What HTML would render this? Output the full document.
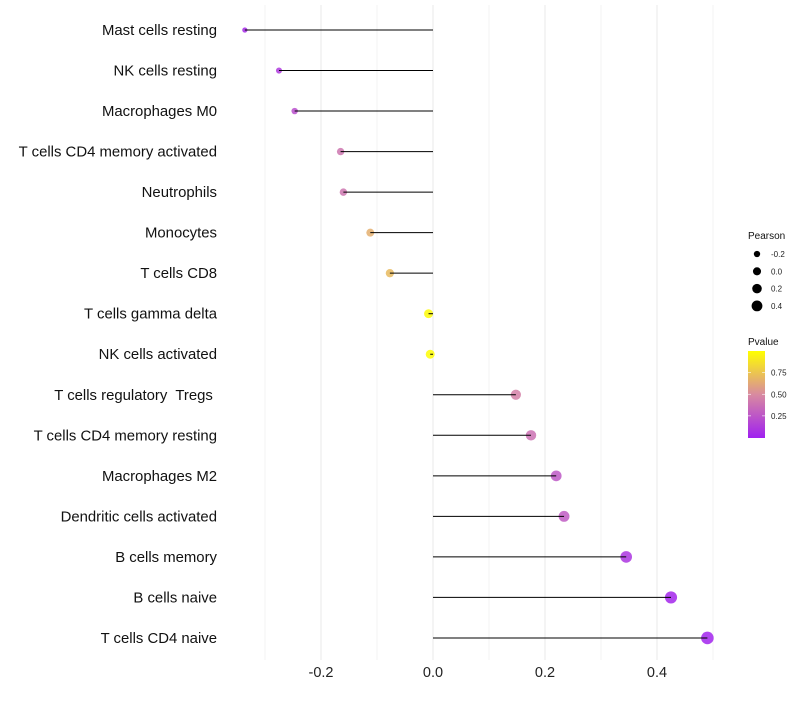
<!DOCTYPE html>
<html><head><meta charset="utf-8"><style>
body{margin:0;background:#fff;}
svg{font-family:"Liberation Sans",sans-serif;}
text{white-space:pre;}
</style></head><body>
<svg id="chart" width="800" height="700"></svg>
<script>
const categories=["Mast cells resting","NK cells resting","Macrophages M0","T cells CD4 memory activated","Neutrophils","Monocytes","T cells CD8","T cells gamma delta","NK cells activated","T cells regulatory  Tregs ","T cells CD4 memory resting","Macrophages M2","Dendritic cells activated","B cells memory","B cells naive","T cells CD4 naive"];
const pearson=[-0.336,-0.275,-0.247,-0.165,-0.16,-0.112,-0.077,-0.008,-0.005,0.148,0.175,0.22,0.234,0.345,0.425,0.49];
const pvalues=[0.05,0.12,0.22,0.4,0.4,0.65,0.7,0.97,0.98,0.45,0.38,0.26,0.28,0.1,0.03,0.02];
const xTicks=[-0.2,0,0.2,0.4];
const xTickLabels=["-0.2","0.0","0.2","0.4"];
const sizeLegend=[-0.2,0,0.2,0.4];
const sizeLegendLabels=["-0.2","0.0","0.2","0.4"];
const pTicks=[0.25,0.5,0.75];
const pTickLabels=["0.25","0.50","0.75"];

const NS="http://www.w3.org/2000/svg";
const svg=document.getElementById('chart');
function el(t,a,p){const e=document.createElementNS(NS,t);for(const k in a)e.setAttribute(k,a[k]);(p||svg).appendChild(e);return e;}
const xs=v=>433+v*560;
const ys=i=>30+i*40.53;
const rs=v=>Math.sqrt(Math.max(4,20.2+39.6*v));
function lerp(a,b,t){return a.map((x,i)=>Math.round(x+(b[i]-x)*t));}
function col(p){const lo=[160,32,240],mid=[216,138,160],hi=[255,255,0];const t=Math.max(0,Math.min(1,p/0.99));
 const c=t<0.5?lerp(lo,mid,t*2):lerp(mid,hi,(t-0.5)*2);return `rgb(${c[0]},${c[1]},${c[2]})`;}

for(let v=-0.3;v<=0.51;v+=0.1){
 const g=el('line',{x1:xs(v),x2:xs(v),y1:5,y2:660,stroke:'#ebebeb','stroke-width':Math.abs(Math.round(v*10))%2===0?1.1:0.6});
 
 
}
xTicks.forEach((v,i)=>{
 const t=el('text',{x:xs(v),y:677,'text-anchor':'middle','font-size':14.5,fill:'#222'});
 t.textContent=xTickLabels[i];
 
 
});
categories.forEach((c,i)=>{
 const t=el('text',{x:217,y:ys(i)+5,'text-anchor':'end','font-size':14.9,fill:'#111'});
 t.textContent=c;
 
 
 const pt=el('circle',{cx:xs(pearson[i]),cy:ys(i),r:rs(pearson[i]),fill:col(pvalues[i]),'fill-opacity':0.85});
 
 
 const ln=el('line',{x1:xs(0),x2:xs(pearson[i]),y1:ys(i),y2:ys(i),stroke:'#000','stroke-width':1});
 
 
});
const st=el('text',{x:748,y:239,'font-size':10,fill:'#111'});st.textContent='Pearson';


sizeLegend.forEach((v,i)=>{
 const y=254+i*17.3;
 const c=el('circle',{cx:757,cy:y,r:rs(v)*0.9,fill:'#000'});
 
 
 const t=el('text',{x:771,y:y+3,'font-size':8,fill:'#222'});t.textContent=sizeLegendLabels[i];
 
 
});
const pt=el('text',{x:748,y:345,'font-size':10,fill:'#111'});pt.textContent='Pvalue';


const defs=el('defs',{});
const gr=el('linearGradient',{id:'pg',x1:0,y1:1,x2:0,y2:0},defs);
el('stop',{offset:'0',  'stop-color':col(0)},gr);
el('stop',{offset:'0.5','stop-color':col(0.495)},gr);
el('stop',{offset:'1',  'stop-color':col(0.99)},gr);
const bar=el('rect',{x:748,y:351,width:17,height:87,fill:'url(#pg)'});


pTicks.forEach((v,i)=>{
 const y=437.5-v*86.5;
 el('line',{x1:748,x2:751,y1:y,y2:y,stroke:'#fff','stroke-width':0.6});
 el('line',{x1:762,x2:765,y1:y,y2:y,stroke:'#fff','stroke-width':0.6});
 const t=el('text',{x:771,y:y+3,'font-size':8,fill:'#222'});t.textContent=pTickLabels[i];
 
 
});
</script>
</body></html>
